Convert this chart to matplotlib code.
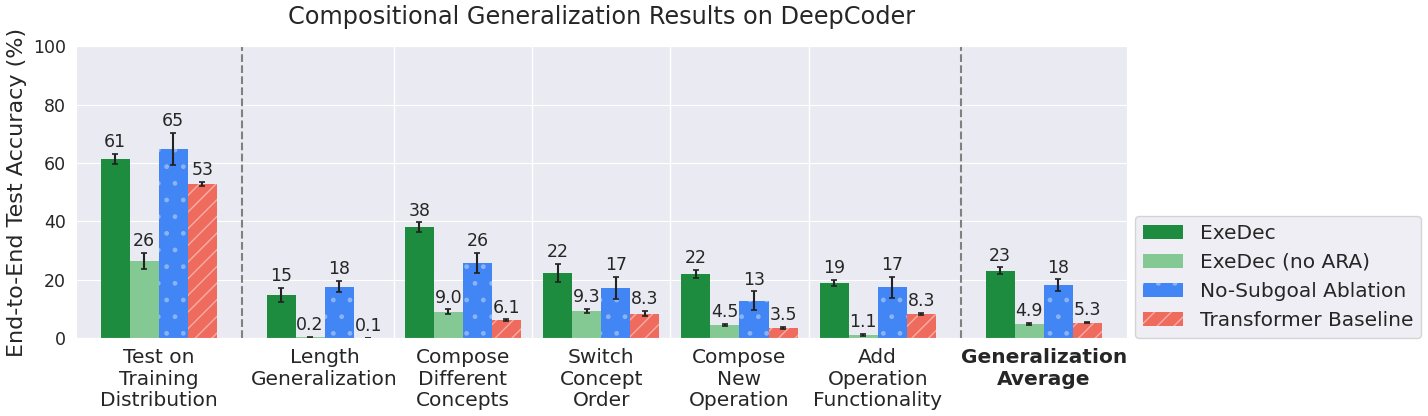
#!/usr/bin/env python3

import matplotlib
matplotlib.use('Agg')
import matplotlib.pyplot as plt
import seaborn as sns
import numpy as np

sns.set_style('darkgrid')
plt.rcParams['hatch.linewidth'] = 1.0

categories = ["Test on\nTraining\nDistribution", "Length\nGeneralization",
              "Compose\nDifferent\nConcepts", "Switch\nConcept\nOrder",
              "Compose\nNew\nOperation", "Add\nOperation\nFunctionality",
              "Generalization\nAverage"]
methods = ["ExeDec", "ExeDec (no ARA)", "No-Subgoal Ablation", "Transformer Baseline"]

exedec = [61.3, 14.8, 38.0, 22.3, 22.0, 18.9, 23.1]
exedec_err = [1.8, 2.4, 1.6, 3.2, 1.4, 1.0, 1.1]
no_ara = [26.4, 0.2, 9.0, 9.3, 4.5, 1.1, 4.9]
no_ara_err = [2.8, 0.3, 0.8, 0.6, 0.4, 0.4, 0.3]
no_subgoal = [64.8, 17.6, 25.8, 17.2, 12.8, 17.4, 18.1]
no_subgoal_err = [5.6, 2.0, 3.4, 3.8, 3.2, 3.6, 2.0]
transformer = [52.8, 0.1, 6.1, 8.3, 3.5, 8.3, 5.3]
transformer_err = [0.7, 0.0, 0.3, 0.9, 0.3, 0.3, 0.3]

values = [exedec, no_ara, no_subgoal, transformer]
errors = [exedec_err, no_ara_err, no_subgoal_err, transformer_err]
colors = ['#1e8c3e', '#84c994', '#4285f4', '#ef6b5e']
hatches = [None, None, '.', '//']
hatch_colors = [None, None, '#8ab4f8', '#f6aea6']

x = np.array([0, 1.2, 2.2, 3.2, 4.2, 5.2, 6.4])
width = 0.21

fig, ax = plt.subplots(figsize=(14.28, 4.16), dpi=100)
fig.subplots_adjust(left=0.053, right=0.789, top=0.889, bottom=0.1875)

for i in range(4):
    offset = (i - 1.5) * width
    bars = ax.bar(x + offset, values[i], width, yerr=errors[i], color=colors[i],
                  label=methods[i], hatch=hatches[i],
                  edgecolor=hatch_colors[i] if hatch_colors[i] else colors[i],
                  linewidth=0, capsize=2,
                  error_kw={'ecolor': '#222222', 'elinewidth': 1.5, 'capthick': 1.2})
    labels = [f"{v:.0f}" if v >= 10 else f"{v:.1f}" for v in values[i]]
    ax.bar_label(bars, labels=labels, padding=2, fontsize=12.5, color='#262626')

ax.axvline(0.6, color='gray', linestyle='--', linewidth=1.5)
ax.axvline(5.8, color='gray', linestyle='--', linewidth=1.5)

ax.set_xlim(-0.6, 7.0)
ax.set_ylim(0, 100)
ax.set_xticks(x)
ax.set_xticklabels(categories, fontsize=14.5, linespacing=1.15)
ax.get_xticklabels()[-1].set_fontweight('bold')
ax.set_xticks([1.7, 2.7, 3.7, 4.7], minor=True)
ax.grid(False, axis='x', which='major')
ax.grid(True, axis='x', which='minor', color='white', linewidth=1)
ax.tick_params(axis='x', which='minor', length=0)
ax.tick_params(axis='x', which='major', pad=4)
ax.tick_params(axis='y', labelsize=12.5)
ax.set_yticks([0, 20, 40, 60, 80, 100])
ax.set_ylabel('End-to-End Test Accuracy (%)', fontsize=16)
ax.set_title('Compositional Generalization Results on DeepCoder', fontsize=17.3, pad=16)

ax.legend(loc='lower left', bbox_to_anchor=(1.008, 0.0), fontsize=14.5,
          frameon=True, borderaxespad=0)

plt.savefig('out.png')
